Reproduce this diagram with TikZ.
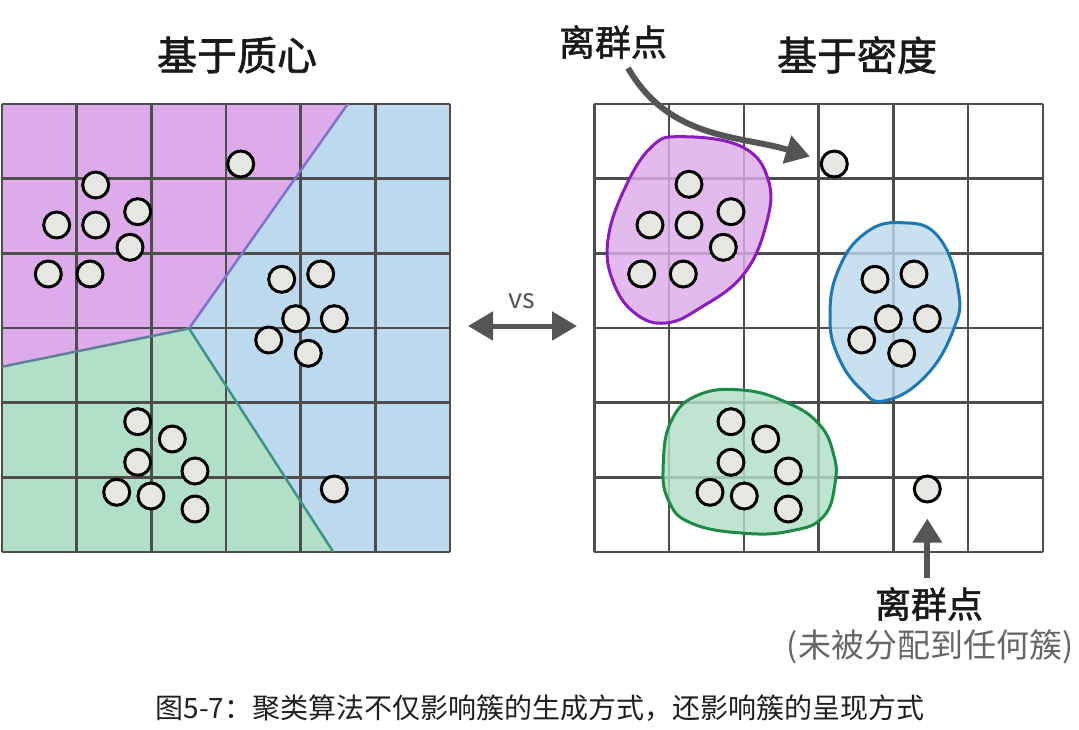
\documentclass[tikz,border=0pt]{standalone}
\usepackage{fontspec}
\setmainfont{Noto Sans CJK SC}
\newfontfamily\medfont{Noto Sans CJK SC}[FakeBold=1.6]
\usetikzlibrary{arrows.meta}
\definecolor{gridc}{HTML}{4D4D4D}
\definecolor{regpurple}{HTML}{DDABE9}
\definecolor{regblue}{HTML}{BDD9EE}
\definecolor{reggreen}{HTML}{B1DFC8}
\definecolor{linepb}{HTML}{7F72CF}
\definecolor{linepg}{HTML}{5F7F98}
\definecolor{linegb}{HTML}{3F9486}
\definecolor{blobpurple}{HTML}{8A1CC0}
\definecolor{blobblue}{HTML}{1F78B6}
\definecolor{blobgreen}{HTML}{1E8A48}
\definecolor{ptfill}{HTML}{E6E6E3}
\definecolor{arrowc}{HTML}{555555}
\definecolor{subgray}{HTML}{666666}
\tikzset{
  pt/.style={circle, draw=black, line width=3pt, fill=ptfill, minimum size=26pt, inner sep=0pt},
  gridline/.style={draw=gridc, line width=2.5pt},
  bigarrow/.style={draw=arrowc, line width=6pt, -{Triangle[length=24pt,width=28pt]}},
  title/.style={font=\medfont\fontsize{40}{46}\selectfont, text=black!90, inner sep=0pt},
  labeltext/.style={font=\medfont\fontsize{36}{42}\selectfont, text=black!90, inner sep=0pt},
}
\begin{document}
\begin{tikzpicture}[x=1pt,y=1pt]
\useasboundingbox (0,0) rectangle (1079,-729);

% ---------- left panel regions ----------
\coordinate (L0) at (189,-328.5);
\coordinate (Ltop) at (347.7,-104);
\coordinate (Lleft) at (2,-366.7);
\coordinate (Lbot) at (333.3,-552);
\fill[regpurple] (2,-104) -- (Ltop) -- (L0) -- (Lleft) -- cycle;
\fill[regblue] (Ltop) -- (450,-104) -- (450,-552) -- (Lbot) -- (L0) -- cycle;
\fill[reggreen] (Lleft) -- (L0) -- (Lbot) -- (2,-552) -- cycle;
\foreach \i in {0,...,6} {
  \draw[gridline] ({2+\i*74.67},-104) -- ({2+\i*74.67},-552);
  \draw[gridline] (2,{-104-\i*74.67}) -- (450,{-104-\i*74.67});
}
\draw[linepb, line width=2.5pt] (L0) -- (Ltop);
\draw[linepg, line width=2.5pt] (L0) -- (Lleft);
\draw[linegb, line width=2.5pt] (L0) -- (Lbot);

% ---------- left points ----------
\foreach \x/\y [count=\n] in {240.7/164, 95.7/185, 137.7/211.7, 56.7/225, 95.7/225, 130/247.3, 48.3/274, 90/274,
  281.7/279.3, 320.7/274, 295.7/318.7, 334.3/318.7, 268.7/340, 308.3/353.3,
  137.7/421.7, 172.3/439, 137.7/462.3, 195/471, 116.7/492.3, 151/496, 195/509, 334.3/489} {
  \node[pt] (l\n) at (\x,-\y) {};
}

% ---------- right panel ----------
\foreach \i in {0,...,6} {
  \draw[gridline] ({594.3+\i*74.78},-104) -- ({594.3+\i*74.78},-552);
  \draw[gridline] (594.3,{-104-\i*74.67}) -- (1043,{-104-\i*74.67});
}
\filldraw[fill=regpurple, fill opacity=0.82, draw=blobpurple, line width=3pt]
  plot[smooth cycle, tension=0.7] coordinates {(681.7,-136.7) (741.7,-146.7) (768.3,-180) (766,-225) (743,-275)
  (700,-308) (666,-323) (636,-314) (614,-284) (607.7,-242) (624,-190) (651.7,-146.7)};
\filldraw[fill=regblue, fill opacity=0.82, draw=blobblue, line width=3pt]
  plot[smooth cycle, tension=0.75] coordinates {(901.7,-222.7) (938.3,-236.7) (958.3,-290) (953.3,-330) (925,-376.7)
  (885,-400.7) (861.7,-390) (838.3,-356.7) (830,-316.7) (838.3,-270) (865,-233.3)};
\filldraw[fill=reggreen, fill opacity=0.82, draw=blobgreen, line width=3pt]
  plot[smooth cycle, tension=0.75] coordinates {(741.7,-390) (785,-401.7) (818.3,-423.3) (833.3,-453.3) (835,-483.3)
  (823.3,-516.7) (791.7,-530.7) (745,-533.3) (691.7,-523.3) (668.3,-500) (663.3,-463.3) (671.7,-420) (698.3,-395)};

\foreach \x/\y [count=\n] in {834.3/164, 689/184.3, 731/211.7, 650/225, 689/225, 723.3/247.3, 641.7/274, 683.3/274,
  875/279.3, 914/274, 888.3/318.7, 927.3/318.7, 861.7/340, 901.7/353.3,
  731/421.7, 765.7/439, 731/462.3, 788.3/471, 710/492.3, 744.3/496, 788.3/509, 927.3/489} {
  \node[pt] (r\n) at (\x,-\y) {};
}

% ---------- titles ----------
\node[title] (t1) at (237,-55) {基于质心};
\node[title] (t2) at (857,-55) {基于密度};

% ---------- vs arrow ----------
\coordinate (vsl) at (468,-326);
\coordinate (vsr) at (577,-326);
\draw[draw=arrowc, line width=5pt, {Triangle[length=25pt,width=28pt]}-{Triangle[length=25pt,width=28pt]}] (vsl) -- (vsr);
\node[font=\fontsize{27}{30}\selectfont, text=arrowc, inner sep=0pt] (vs) at (522,-301) {vs};

% ---------- outlier labels and arrows ----------
\node[labeltext] (lab1) at (613,-42) {离群点};
\coordinate (a1s) at (628,-68);
\draw[bigarrow, shorten >=11pt] (a1s) to[out=-60, in=163] (r1);

\node[labeltext] (lab2) at (929,-604) {离群点};
\node[font=\fontsize{33}{38}\selectfont, text=subgray, inner sep=0pt] (sub2) at (930,-647) {(未被分配到任何簇)};
\coordinate (a2s) at (927.3,-578);
\draw[bigarrow, shorten >=15pt] (a2s) -- (r22);

% ---------- caption ----------
\node[font=\fontsize{28}{32}\selectfont, text=black!88, inner sep=0pt] (cap) at (540,-708) {图5-7：聚类算法不仅影响簇的生成方式，还影响簇的呈现方式};
\end{tikzpicture}
\end{document}
